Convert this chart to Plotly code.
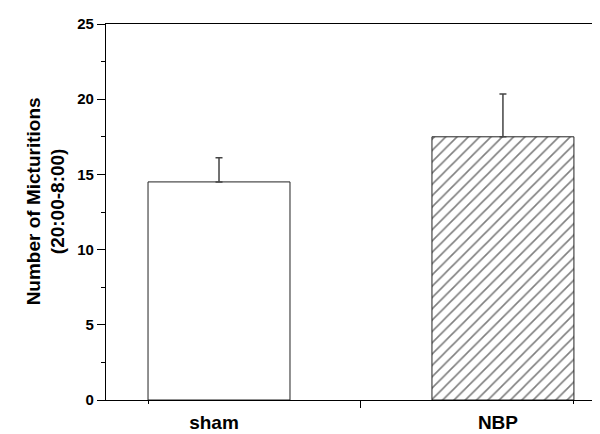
import plotly.graph_objects as go

categories = ["sham", "NBP"]
positions = [1, 2]
means = [14.5, 17.5]
errors = [1.6, 2.85]
y_ticks = [0, 5, 10, 15, 20, 25]
y_tick_labels = ["0", "5", "10", "15", "20", "25"]

FONT = "Liberation Sans, Arial, sans-serif"

fig = go.Figure()

fig.add_trace(go.Bar(
    x=positions[:1], y=means[:1], width=0.5,
    marker=dict(color="white", line=dict(color="#222222", width=1)),
    error_y=dict(type="data", symmetric=False, array=errors[:1], arrayminus=[0],
                 color="#444444", thickness=1.5, width=3.5),
    showlegend=False, hoverinfo="skip",
))
fig.add_trace(go.Bar(
    x=positions[1:], y=means[1:], width=0.5,
    marker=dict(color="white", line=dict(color="#222222", width=1),
                pattern=dict(shape="/", fgcolor="#000000", bgcolor="white",
                             size=8, solidity=0.2)),
    error_y=dict(type="data", symmetric=False, array=errors[1:], arrayminus=[0],
                 color="#444444", thickness=1.5, width=3.5),
    showlegend=False, hoverinfo="skip",
))
# invisible trace to carry the tick-only overlay axis
fig.add_trace(go.Scatter(x=[], y=[], xaxis="x2", yaxis="y", showlegend=False,
                         hoverinfo="skip"))

xr = [0.602, 2.370]

fig.update_layout(
    width=600, height=434,
    margin=dict(l=98, r=0, t=16, b=42),
    paper_bgcolor="white", plot_bgcolor="white",
    font=dict(family=FONT, color="black"),
    xaxis=dict(
        range=xr, showgrid=False, zeroline=False,
        showline=True, linecolor="black", linewidth=1.3, mirror=True,
        tickmode="array", tickvals=positions, ticktext=categories,
        ticks="", ticklabelstandoff=5, ticklabelshift=-5,
        tickfont=dict(family=FONT, size=19, color="black", weight="bold"),
    ),
    xaxis2=dict(
        range=xr, overlaying="x", anchor="y", side="bottom",
        showgrid=False, zeroline=False, showline=False,
        showticklabels=False,
        tickmode="array", tickvals=[1.5], ticks="outside", ticklen=7,
        tickwidth=1.3, tickcolor="black",
        minor=dict(tickmode="array", tickvals=[0.75, 2.25], ticks="outside",
                   ticklen=3, tickwidth=1.3, tickcolor="black"),
    ),
    yaxis=dict(
        range=[0, 25], showgrid=False, zeroline=False,
        showline=True, linecolor="black", linewidth=1.3,
        tickmode="array", tickvals=y_ticks, ticktext=y_tick_labels,
        ticks="outside", ticklen=8, tickwidth=1.3, tickcolor="black",
        minor=dict(dtick=2.5, ticks="outside", ticklen=4, tickwidth=1.3,
                   tickcolor="black", showgrid=False),
        tickfont=dict(family=FONT, size=15, color="black", weight="bold"),
    ),
    annotations=[dict(
        text="Number of Micturitions<br>(20:00-8:00)",
        xref="paper", yref="paper", x=-0.1205, y=0.527,
        xanchor="center", yanchor="middle", textangle=-90, showarrow=False,
        font=dict(family=FONT, size=19, color="black", weight="bold"),
    )],
)

fig.write_html("out.html")
